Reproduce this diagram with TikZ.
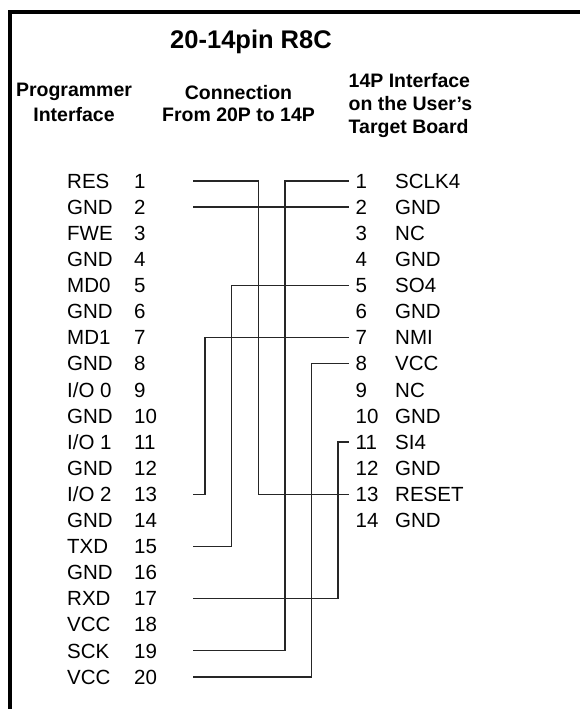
\documentclass[tikz,border=0pt]{standalone}
\usepackage{fontspec}
\setmainfont{Liberation Sans}
\tikzset{
  body/.style={anchor=base west, inner sep=0pt, font=\fontsize{20.5}{24}\selectfont},
  head/.style={inner sep=0pt, font=\fontsize{19.5}{23}\selectfont\bfseries},
  wire/.style={draw=black!85, line width=1.3pt},
  frame/.style={draw=black, line width=3.6pt}
}
\begin{document}
\begin{tikzpicture}[x=1pt,y=-1pt]
\useasboundingbox (0,0) rectangle (580,709);
% frame (top and left edges visible)
\draw[frame] (9.8,720) -- (9.8,11.8) -- (600,11.8);
% headings (anchor base = baseline of the last line)
\node[head, anchor=base, font=\fontsize{25.5}{30}\selectfont\bfseries] (title) at (251,48.3) {20-14pin R8C};
\node[head, anchor=base, align=center, font=\fontsize{19.5}{25}\selectfont\bfseries] (hprog) at (74,121.7) {Programmer\\Interface};
\node[head, anchor=base, align=center, font=\fontsize{19.5}{22.5}\selectfont\bfseries] (hconn) at (238.5,121.7) {Connection\\From 20P to 14P};
\node[head, anchor=base west, align=left, font=\fontsize{19.5}{23}\selectfont\bfseries] (huser) at (348.5,133.3) {14P Interface\\on the User’s\\Target Board};
% left connector (20 pins)
\foreach \n/\lab in {1/RES,2/GND,3/FWE,4/GND,5/MD0,6/GND,7/MD1,8/GND,9/{I/O 0},10/GND,
                     11/{I/O 1},12/GND,13/{I/O 2},14/GND,15/TXD,16/GND,17/RXD,18/VCC,19/SCK,20/VCC}{
  \pgfmathsetmacro{\yy}{181+(\n-1)*26.1}
  \node[body] (lname\n) at (67,\yy+7.2) {\lab};
  \node[body] (lnum\n) at (134,\yy+7.2) {\n};
  \coordinate (L\n) at (193,\yy);
}
% right connector (14 pins)
\foreach \n/\lab in {1/SCLK4,2/GND,3/NC,4/GND,5/SO4,6/GND,7/NMI,8/VCC,9/NC,10/GND,
                     11/SI4,12/GND,13/RESET,14/GND}{
  \pgfmathsetmacro{\yy}{181+(\n-1)*26.1}
  \node[body] (rnum\n) at (355.5,\yy+7.2) {\n};
  \node[body] (rname\n) at (395,\yy+7.2) {\lab};
  \coordinate (R\n) at (349,\yy);
}
% wiring
\draw[wire] (L2) -- (R2);
\draw[wire] (L1) -- ++(65.5,0) |- (R13);
\draw[wire] (L13) -- ++(12,0) |- (R7);
\draw[wire] (L15) -- ++(38.8,0) |- (R5);
\draw[wire] (L17) -- ++(145,0) |- (R11);
\draw[wire] (L19) -- ++(92,0) |- (R1);
\draw[wire] (L20) -- ++(118.8,0) |- (R8);
\end{tikzpicture}
\end{document}
